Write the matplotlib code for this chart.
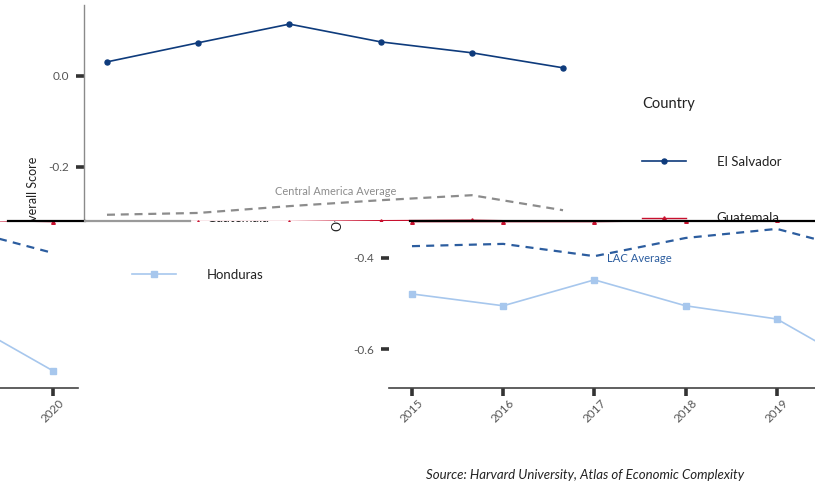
import matplotlib
matplotlib.use("Agg")
import matplotlib.pyplot as plt
from matplotlib.transforms import Bbox
from matplotlib.lines import Line2D
from matplotlib.text import Text
from matplotlib.patches import Patch as MplPatch

plt.rcParams['font.family'] = ['Lato', 'DejaVu Sans']

# ---------------- data ----------------
years = [2015, 2016, 2017, 2018, 2019, 2020]
x_tick_labels = ['2015', '2016', '2017', '2018', '2019', '2020']
el_salvador = [0.031, 0.073, 0.114, 0.075, 0.051, 0.018]
guatemala = [-0.320, -0.320, -0.320, -0.318, -0.317, -0.320]
honduras = [-0.479, -0.505, -0.448, -0.505, -0.534, -0.648]
central_america_avg = [-0.305, -0.301, -0.286, -0.273, -0.262, -0.295]
lac_avg = [-0.374, -0.369, -0.396, -0.356, -0.336, -0.389]
y_ticks = [-0.6, -0.4, -0.2, 0.0]
y_tick_labels = ['-0.6', '-0.4', '-0.2', '0.0']
countries = ['El Salvador', 'Guatemala', 'Honduras']

# ---------------- figure ----------------
W, H = 815, 486
fig = plt.figure(figsize=(W / 100, H / 100), dpi=100)
fig.patch.set_facecolor('white')

C_ES = '#0e3b7c'
C_GT = '#c8102e'
C_HN = '#a7c7ed'
C_LAC = '#2c5d9f'
C_CA = '#8c8c8c'

AX_L, AX_R, AX_T, AX_B = 84, 588, 5, 388   # axes rect in pixels (image coords)
SPLIT = 221                                  # row where the picture is torn
SHIFT = 305                                  # horizontal shift of the lower part


def build(dx, show_left_spine):
    ax = fig.add_axes([(AX_L + dx) / W, (H - AX_B) / H,
                       (AX_R - AX_L) / W, (AX_B - AX_T) / H])
    ax.patch.set_visible(False)
    texts = []

    ax.plot(years, el_salvador, color=C_ES, lw=1.2, marker='o', ms=3.6,
            label=countries[0], zorder=5)
    ax.plot(years, guatemala, color=C_GT, lw=1.0, marker='^', ms=2.6,
            label=countries[1], zorder=5)
    ax.plot(years, honduras, color=C_HN, lw=1.2, marker='s', ms=4.2,
            label=countries[2], zorder=5)
    ax.plot(years, central_america_avg, color=C_CA, lw=1.6,
            dashes=(3.6, 2.6), zorder=3)
    ax.plot(years, lac_avg, color=C_LAC, lw=1.6, dashes=(3.6, 2.8), zorder=3)

    ax.text(2017.51, -0.253, 'Central America Average', color=C_CA,
            fontsize=7.9, ha='center', va='center')
    ax.text(2017.49, -0.402, 'LAC Average', color=C_LAC,
            fontsize=8.1, ha='center', va='center')

    ax.set_xlim(2014.748, 2020.274)
    ax.set_ylim(-0.6857, 0.156)
    ax.set_xticks(years)
    ax.set_xticklabels(x_tick_labels, rotation=45, ha='center', va='top',
                       fontsize=8.5, color='#555555')
    ax.set_yticks(y_ticks)
    ax.set_yticklabels(y_tick_labels, fontsize=8.5, color='#555555')
    ax.tick_params(axis='x', length=6, width=2.6, color='#333333', pad=1)
    ax.tick_params(axis='y', length=6, width=2.6, color='#333333', pad=5)

    for s in ('top', 'right'):
        ax.spines[s].set_visible(False)
    ax.spines['left'].set_color('#8a8a8a')
    ax.spines['left'].set_linewidth(1.0)
    ax.spines['left'].set_visible(show_left_spine)
    ax.spines['bottom'].set_color('#444444')
    ax.spines['bottom'].set_linewidth(1.2)

    ax.set_ylabel('Overall Score', fontsize=9.0, color='#222222')
    ax.yaxis.set_label_coords((39 - AX_L) / (AX_R - AX_L),
                              (AX_B - 194) / (AX_B - AX_T))

    leg = ax.legend(title='Country', loc='upper left',
                    bbox_to_anchor=((642 - AX_L) / (AX_R - AX_L),
                                    (AX_B - 97) / (AX_B - AX_T)),
                    frameon=False, borderpad=0, borderaxespad=0,
                    fontsize=9.5, title_fontsize=10.5, labelspacing=3.38,
                    handlelength=3.3, handletextpad=2.35, alignment='left')
    for t in leg.get_texts():
        t.set_color('#222222')
    leg.get_title().set_color('#222222')

    cap = fig.text((121 + dx) / W, (H - 475) / H,
                   'Source: Harvard University, Atlas of Economic Complexity',
                   fontsize=9.5, style='italic', color='#222222',
                   ha='left', va='center')
    texts.append(cap)
    return ax, texts


copies = [(build(0, True), (0, SPLIT)),
          (build(SHIFT, False), (SPLIT, H)),
          (build(SHIFT - W, False), (SPLIT, H))]

# tear line
ty = (H - SPLIT - 0.5) / H
for xa, xb, col in ((8, 85, 'black'), (85, 190, '#9a9a9a'), (410, 815, 'black')):
    fig.add_artist(Line2D([xa / W, xb / W], [ty, ty], color=col, lw=1.6,
                          transform=fig.transFigure, zorder=10))

fig.canvas.draw()

for (ax, texts), rows in copies:
    box = Bbox.from_extents(0, H - rows[1], W, H - rows[0])
    arts = [a for a in ax.findobj() if isinstance(a, (Line2D, Text, MplPatch))]
    arts += texts
    for a in arts:
        if isinstance(a, Text):
            a.set_clip_path(None)
        a.set_clip_box(box)
        a.set_clip_on(True)

fig.savefig('out.png', dpi=100)
